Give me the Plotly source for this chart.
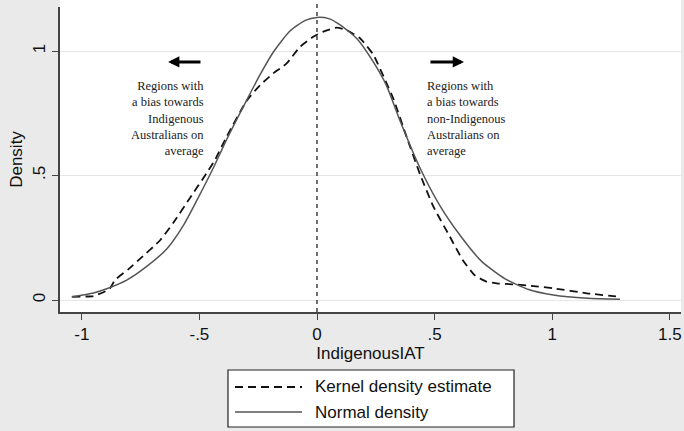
import plotly.graph_objects as go

# Kernel density estimate
kde_x = [-1.04, -0.951, -0.91, -0.88, -0.859, -0.80, -0.753, -0.667, -0.611, -0.54,
         -0.469, -0.434, -0.384, -0.299, -0.242, -0.186, -0.129, -0.072, -0.016, 0.027,
         0.084, 0.126, 0.183, 0.24, 0.296, 0.324, 0.381, 0.438, 0.495, 0.565,
         0.62, 0.67, 0.72, 0.77, 0.835, 0.92, 1.005, 1.147, 1.288]
kde_y = [0.013, 0.016, 0.03, 0.047, 0.08, 0.125, 0.165, 0.24, 0.31, 0.41,
         0.51, 0.562, 0.656, 0.8, 0.863, 0.91, 0.95, 1.017, 1.057, 1.078,
         1.094, 1.084, 1.051, 0.984, 0.87, 0.81, 0.655, 0.505, 0.375, 0.254,
         0.16, 0.1, 0.074, 0.066, 0.063, 0.056, 0.047, 0.027, 0.013]

# Normal density
norm_x = [-1.043, -0.95, -0.894, -0.809, -0.724, -0.639, -0.568, -0.511, -0.441, -0.384,
          -0.306, -0.242, -0.186, -0.115, -0.05, 0.0, 0.05, 0.098, 0.169, 0.24,
          0.296, 0.353, 0.438, 0.523, 0.608, 0.70, 0.80, 0.90, 1.005, 1.15, 1.288]
norm_y = [0.012, 0.028, 0.045, 0.08, 0.135, 0.205, 0.30, 0.40, 0.53, 0.645,
          0.79, 0.905, 0.995, 1.08, 1.123, 1.135, 1.13, 1.105, 1.05, 0.955,
          0.86, 0.72, 0.53, 0.378, 0.26, 0.155, 0.085, 0.042, 0.02, 0.007, 0.003]

x_ticks = [-1, -0.5, 0, 0.5, 1, 1.5]
x_tick_labels = ["-1", "-.5", "0", ".5", "1", "1.5"]
y_ticks = [0, 0.5, 1]
y_tick_labels = ["0", ".5", "1"]

series_names = ["Kernel density estimate", "Normal density"]

left_note = "Regions with<br>a bias towards<br>Indigenous<br>Australians on<br>average"
right_note = "Regions with<br>a bias towards<br>non-Indigenous<br>Australians on<br>average"

BG = "#eaeaea"
AXIS = "#444444"
SANS = "Liberation Sans, Arial, sans-serif"
SERIF = "Liberation Serif, Times New Roman, serif"
KDE_LINE = dict(color="#111111", width=1.8, dash="8px,5px")
NORM_LINE = dict(color="#555555", width=1.5)

fig = go.Figure()
fig.add_trace(go.Scatter(x=kde_x, y=kde_y, mode="lines", name=series_names[0],
                         line=dict(**KDE_LINE, shape="spline", smoothing=0.5)))
fig.add_trace(go.Scatter(x=norm_x, y=norm_y, mode="lines", name=series_names[1],
                         line=dict(**NORM_LINE, shape="spline", smoothing=0.6)))

# white strip above the plot region (Stata plot region extends slightly above axis)
fig.add_shape(type="rect", xref="paper", yref="paper", x0=0, x1=1, y0=1, y1=1.03,
              fillcolor="white", line=dict(width=0), layer="below")
# vertical dashed line at 0
fig.add_shape(type="line", xref="x", yref="paper", x0=0, x1=0, y0=0, y1=1.025,
              line=dict(color="#222222", width=1.3, dash="4px,4px"))

# arrows
fig.add_annotation(x=-0.633, y=0.956, ax=-0.489, ay=0.956, xref="x", yref="y",
                   axref="x", ayref="y", text="", showarrow=True, arrowhead=2,
                   arrowsize=0.75, arrowwidth=3, arrowcolor="black")
fig.add_annotation(x=0.625, y=0.956, ax=0.476, ay=0.956, xref="x", yref="y",
                   axref="x", ayref="y", text="", showarrow=True, arrowhead=2,
                   arrowsize=0.75, arrowwidth=3, arrowcolor="black")
fig.add_annotation(x=-0.472, y=0.73, xref="x", yref="y", text=left_note, showarrow=False,
                   xanchor="right", yanchor="middle", align="right",
                   font=dict(family=SERIF, size=12.5, color="#222222"))
fig.add_annotation(x=0.459, y=0.73, xref="x", yref="y", text=right_note, showarrow=False,
                   xanchor="left", yanchor="middle", align="left",
                   font=dict(family=SERIF, size=12.5, color="#222222"))

# legend box (drawn below the plot area, Stata style)
fig.add_shape(type="rect", xref="paper", yref="paper", x0=0.2705, x1=0.7311,
              y0=-0.377, y1=-0.1902, fillcolor="white",
              line=dict(color="#222222", width=1.2))
legend_rows = [-0.2459, -0.3279]
legend_styles = [KDE_LINE, NORM_LINE]
for name, yrow, style in zip(series_names, legend_rows, legend_styles):
    fig.add_shape(type="line", xref="paper", yref="paper", x0=0.2818, x1=0.3897,
                  y0=yrow, y1=yrow, line=style)
    fig.add_annotation(x=0.4074, y=yrow, xref="paper", yref="paper", text=name,
                       showarrow=False, xanchor="left", yanchor="middle",
                       font=dict(family=SANS, size=17, color="#111111"))

fig.update_layout(
    width=684, height=431,
    margin=dict(l=60, r=3, t=7, b=119),
    paper_bgcolor=BG, plot_bgcolor="white",
    font=dict(family=SANS, size=17, color="#111111"),
    showlegend=False,
    xaxis=dict(range=[-1.0927, 1.5476], tickvals=x_ticks, ticktext=x_tick_labels,
               showgrid=False, zeroline=False, showline=True, linecolor=AXIS, linewidth=1.5,
               ticks="outside", ticklen=6, tickcolor=AXIS, tickwidth=1.3,
               title=dict(text="IndigenousIAT", standoff=4, font=dict(size=17))),
    yaxis=dict(range=[-0.0482, 1.1767], tickvals=y_ticks, ticktext=y_tick_labels,
               tickangle=-90, showgrid=True, gridcolor="#e6e6e6", gridwidth=1,
               zeroline=False, showline=True, linecolor=AXIS, linewidth=1.5,
               ticks="outside", ticklen=6, tickcolor=AXIS, tickwidth=1.3,
               title=dict(text="Density", standoff=4, font=dict(size=17))),
)

fig.write_html("out.html", config={"displayModeBar": False},
               post_script="document.body.style.margin='0';document.body.style.overflow='hidden';")
